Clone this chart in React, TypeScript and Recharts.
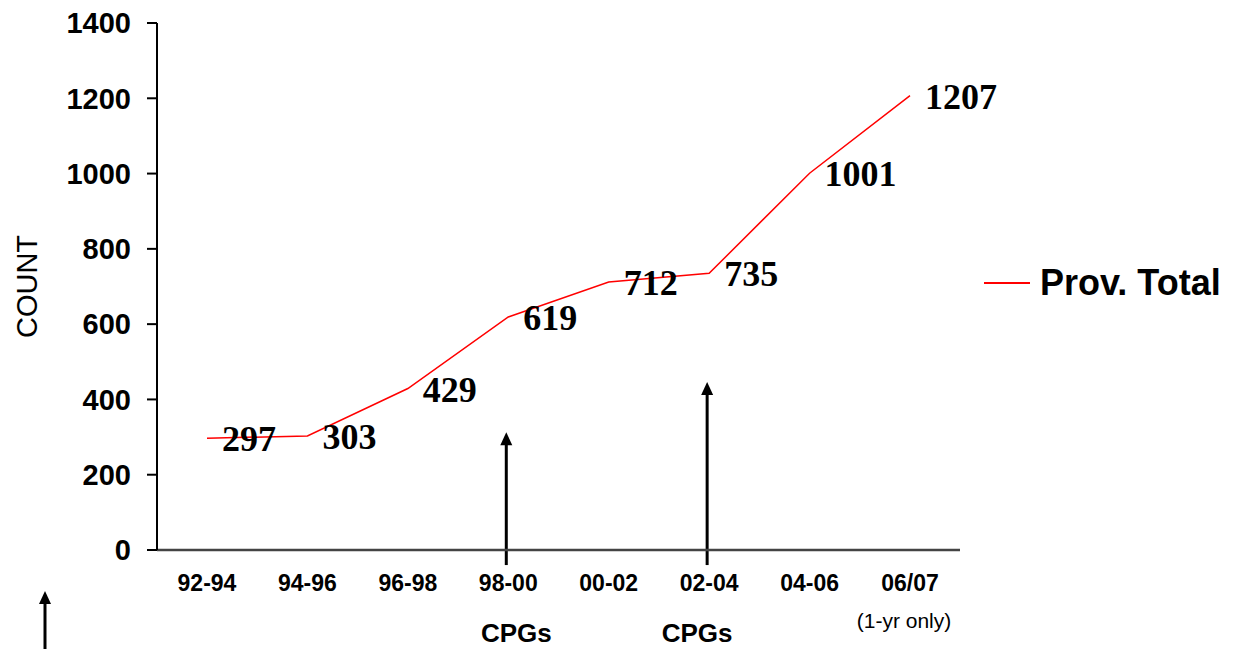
import React from 'react';
import { LineChart, Line, XAxis, YAxis, Legend, LabelList, ReferenceLine } from 'recharts';

const periods = ['92-94', '94-96', '96-98', '98-00', '00-02', '02-04', '04-06', '06/07'];
const provTotal = [297, 303, 429, 619, 712, 735, 1001, 1207];
const yTicks = [0, 200, 400, 600, 800, 1000, 1200, 1400];
const subLabels: Record<string, string> = { '98-00': 'CPGs', '02-04': 'CPGs', '06/07': '(1-yr only)' };
const cpgArrows = [
  { period: '98-00', from: -40, to: 313 },
  { period: '02-04', from: -40, to: 446 },
];

const data = periods.map((p, i) => ({ period: p, total: provTotal[i] }));

const SANS = 'Liberation Sans, Arial, sans-serif';
const SERIF = 'Liberation Serif, Times New Roman, serif';

const XTick = (props: any) => {
  const { x, y, payload } = props;
  const sub = subLabels[payload.value];
  const isCpg = sub === 'CPGs';
  const subDx = payload.value === '98-00' ? 8 : payload.value === '02-04' ? -12 : -6;
  return (
    <g>
      <text x={x} y={y + 25} textAnchor="middle" dominantBaseline="central" fontFamily={SANS} fontWeight="bold" fontSize={23} fill="#000">
        {payload.value}
      </text>
      {sub && (
        <text
          x={x + subDx}
          y={isCpg ? y + 75 : y + 62}
          textAnchor="middle"
          dominantBaseline="central"
          fontFamily={SANS}
          fontWeight={isCpg ? 'bold' : 'normal'}
          fontSize={isCpg ? 26 : 21}
          fill="#000"
        >
          {sub}
        </text>
      )}
    </g>
  );
};

const ValueLabel = (props: any) => {
  const { x, y, value } = props;
  return (
    <text x={x + 15} y={y + 1} dominantBaseline="central" fontFamily={SERIF} fontWeight="bold" fontSize={36} fill="#000">
      {value}
    </text>
  );
};

const Arrow = (props: any) => {
  const { x1, y1, x2, y2 } = props;
  const xb = x1 - 2;
  const bottom = Math.max(y1, y2);
  const top = Math.min(y1, y2);
  return (
    <g>
      <line x1={xb} y1={bottom} x2={xb} y2={top + 10} stroke="#000" strokeWidth={3} />
      <polygon points={`${xb - 6},${top + 13} ${xb + 6},${top + 13} ${xb},${top}`} fill="#000" />
    </g>
  );
};

const LegendContent = () => (
  <div style={{ display: 'flex', alignItems: 'center' }}>
    <svg width={50} height={10} style={{ marginRight: 8 }}>
      <line x1={2} y1={5} x2={48} y2={5} stroke="#ff0000" strokeWidth={2} />
    </svg>
    <span style={{ fontFamily: SANS, fontWeight: 'bold', fontSize: 36, color: '#000', whiteSpace: 'nowrap' }}>Prov. Total</span>
  </div>
);

export default function App() {
  return (
    <div style={{ position: 'absolute', left: 0, top: 0, width: 1239, height: 649, background: '#fff' }}>
      <LineChart width={1239} height={649} data={data} margin={{ top: 23, right: 19, bottom: 0, left: 0 }}>
        <XAxis
          dataKey="period"
          height={99}
          padding={{ left: 50, right: 50 }}
          tickLine={false}
          axisLine={{ stroke: '#444', strokeWidth: 2.5 }}
          tick={<XTick />}
          interval={0}
        />
        <YAxis
          width={157}
          domain={[0, 1400]}
          ticks={yTicks}
          interval={0}
          tickSize={10}
          tickMargin={16}
          axisLine={{ stroke: '#000', strokeWidth: 2 }}
          tickLine={{ stroke: '#000', strokeWidth: 2 }}
          tick={{ fontFamily: SANS, fontWeight: 'bold', fontSize: 29, fill: '#000' }}
          label={{
            value: 'COUNT',
            angle: -90,
            position: 'insideLeft',
            offset: 27,
            style: { fontFamily: SANS, fontSize: 29, fill: '#000', textAnchor: 'middle' },
          }}
        />
        <Legend
          layout="horizontal"
          verticalAlign="middle"
          align="right"
          wrapperStyle={{ left: 982, top: 262, width: 260 }}
          content={<LegendContent />}
        />
        {cpgArrows.map((a) => (
          <ReferenceLine
            key={a.period}
            ifOverflow="visible"
            segment={[
              { x: a.period, y: a.from },
              { x: a.period, y: a.to },
            ]}
            shape={<Arrow />}
          />
        ))}
        <Line
          type="linear"
          dataKey="total"
          name="Prov. Total"
          stroke="#ff0000"
          strokeWidth={1.5}
          dot={false}
          isAnimationActive={false}
        >
          <LabelList dataKey="total" content={<ValueLabel />} />
        </Line>
      </LineChart>
      <svg style={{ position: 'absolute', left: 35, top: 590 }} width={20} height={59}>
        <line x1={10} y1={59} x2={10} y2={12} stroke="#000" strokeWidth={3} />
        <polygon points="4,14 16,14 10,1" fill="#000" />
      </svg>
    </div>
  );
}
